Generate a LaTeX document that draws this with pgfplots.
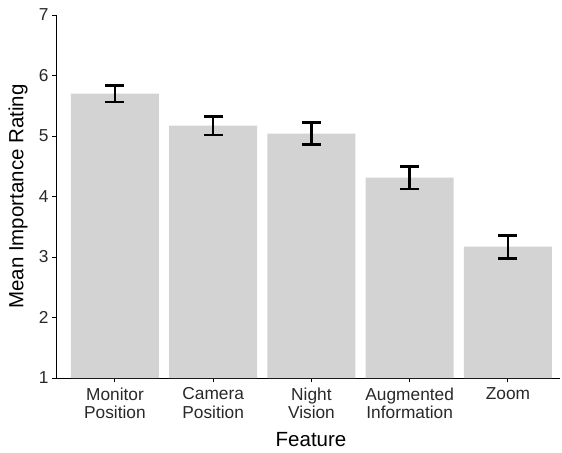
\documentclass[border=0pt]{standalone}
\usepackage{fontspec}
\setmainfont{Liberation Sans}
\usepackage{pgfplots}
\usepackage{pgfplotstable}
\pgfplotsset{compat=1.18}
\definecolor{barc}{RGB}{211,211,211}
\definecolor{tickc}{RGB}{40,40,40}
\pgfplotstableread{
x y e
1 5.70 0.135
2 5.17 0.155
3 5.04 0.185
4 4.31 0.185
5 3.17 0.19
}\datatable
\begin{document}
\begin{tikzpicture}
\useasboundingbox (-56bp,-75bp) rectangle (506bp,378bp);
\begin{axis}[
  at={(0,0)}, anchor=south west,
  scale only axis, width=504bp, height=363bp,
  xmin=0.4, xmax=5.53, ymin=1, ymax=7,
  axis x line*=bottom, axis y line*=left,
  axis line style={black, line width=0.9bp},
  xtick={1,2,3,4,5},
  xticklabels={Monitor\\Position, Camera\\Position, Night\\Vision, Augmented\\Information, Zoom},
  ytick={1,2,3,4,5,6,7},
  tick align=outside, major tick length=4bp,
  tick style={black, line width=0.9bp},
  /pgf/number format/assume math mode=true,
  ticklabel style={font=\fontsize{17.3bp}{18.5bp}\selectfont, text=tickc},
  xticklabel style={align=center, yshift=-2bp},
  xlabel={Feature}, ylabel={Mean Importance Rating},
  every axis x label/.style={at={(axis description cs:0.506,-0.19)}, anchor=base, font=\fontsize{20.5bp}{23bp}\selectfont},
  every axis y label/.style={at={(axis description cs:-0.0754,0.5)}, rotate=90, anchor=center, font=\fontsize{20.5bp}{23bp}\selectfont},
]
\addplot[ybar, bar width=88bp, fill=barc, draw=none,
  error bars/.cd, y dir=both, y explicit,
  error bar style={line width=2.6bp, black},
  error mark options={rotate=90, mark size=9.5bp, line width=2.6bp, black}]
  table[x=x, y=y, y error=e] {\datatable};
\end{axis}
\end{tikzpicture}
\end{document}
